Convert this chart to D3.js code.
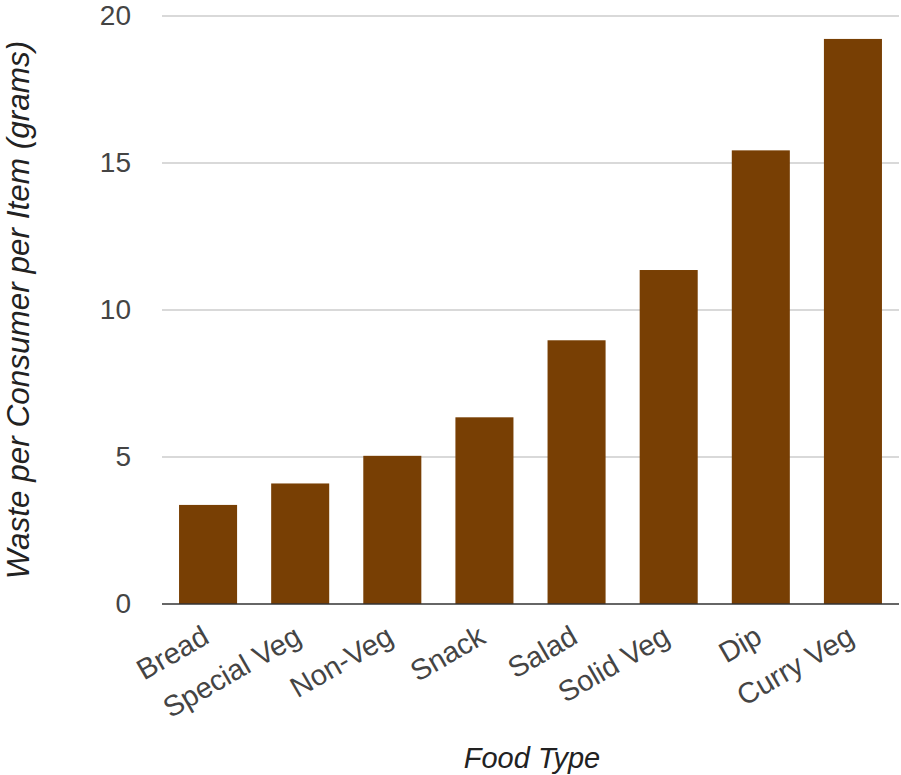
<!DOCTYPE html>
<html>
<head>
<meta charset="utf-8">
<script src="https://cdn.jsdelivr.net/npm/d3@7"></script>
<style>
  html, body { margin: 0; padding: 0; background: #ffffff; }
  svg { display: block; font-family: Arial, "Liberation Sans", sans-serif; }
</style>
</head>
<body>
<svg id="chart" width="901" height="775"></svg>
<script>
// Food categories and average waste per consumer per item (grams)
const categories = ["Bread", "Special Veg", "Non-Veg", "Snack", "Salad", "Solid Veg", "Dip", "Curry Veg"];
const wasteGrams = [3.37, 4.10, 5.04, 6.35, 8.97, 11.36, 15.43, 19.22];
const yTicks = [0, 5, 10, 15, 20];
const xTitle = "Food Type";
const yTitle = "Waste per Consumer per Item (grams)";

const svg = d3.select("#chart");
const plot = { left: 162, right: 899, top: 16, bottom: 604 };

const x = d3.scaleBand()
  .domain(categories)
  .range([plot.left, plot.right])
  .paddingInner(0.37)
  .paddingOuter(0.185);

const y = d3.scaleLinear()
  .domain([0, 20])
  .range([plot.bottom, plot.top]);

// horizontal gridlines
svg.append("g")
  .selectAll("line")
  .data(yTicks.filter(t => t !== 0))
  .join("line")
  .attr("x1", plot.left)
  .attr("x2", plot.right)
  .attr("y1", d => y(d))
  .attr("y2", d => y(d))
  .attr("stroke", "#cccccc")
  .attr("stroke-width", 1.5);

// y-axis tick labels
const yAxis = d3.axisLeft(y).tickValues(yTicks).tickSize(0).tickPadding(0);
const yg = svg.append("g")
  .attr("transform", `translate(${plot.left - 31},0)`)
  .call(yAxis);
yg.select(".domain").remove();
yg.selectAll("text")
  .attr("font-size", 28)
  .attr("fill", "#444444")
  .attr("font-family", "Arial, 'Liberation Sans', sans-serif");

// bars
svg.append("g")
  .selectAll("rect")
  .data(categories.map((c, i) => ({ c, v: wasteGrams[i] })))
  .join("rect")
  .attr("x", d => x(d.c))
  .attr("width", x.bandwidth())
  .attr("y", d => y(d.v))
  .attr("height", d => y(0) - y(d.v))
  .attr("fill", "#783f04");

// baseline
svg.append("line")
  .attr("x1", plot.left)
  .attr("x2", plot.right)
  .attr("y1", y(0))
  .attr("y2", y(0))
  .attr("stroke", "#333333")
  .attr("stroke-width", 1.5);

// slanted category labels
svg.append("g")
  .selectAll("text")
  .data(categories)
  .join("text")
  .attr("transform", d => `translate(${x(d) + x.bandwidth() / 2 + 3},${plot.bottom + 38}) rotate(-30)`)
  .attr("text-anchor", "end")
  .attr("font-size", 29)
  .attr("fill", "#444444")
  .text(d => d);

// axis titles
svg.append("text")
  .attr("x", 532)
  .attr("y", 768)
  .attr("text-anchor", "middle")
  .attr("font-size", 29)
  .attr("font-style", "italic")
  .attr("fill", "#222222")
  .text(xTitle);

svg.append("text")
  .attr("transform", `translate(29,310) rotate(-90)`)
  .attr("text-anchor", "middle")
  .attr("font-size", 31.5)
  .attr("font-style", "italic")
  .attr("fill", "#222222")
  .text(yTitle);
</script>
</body>
</html>
